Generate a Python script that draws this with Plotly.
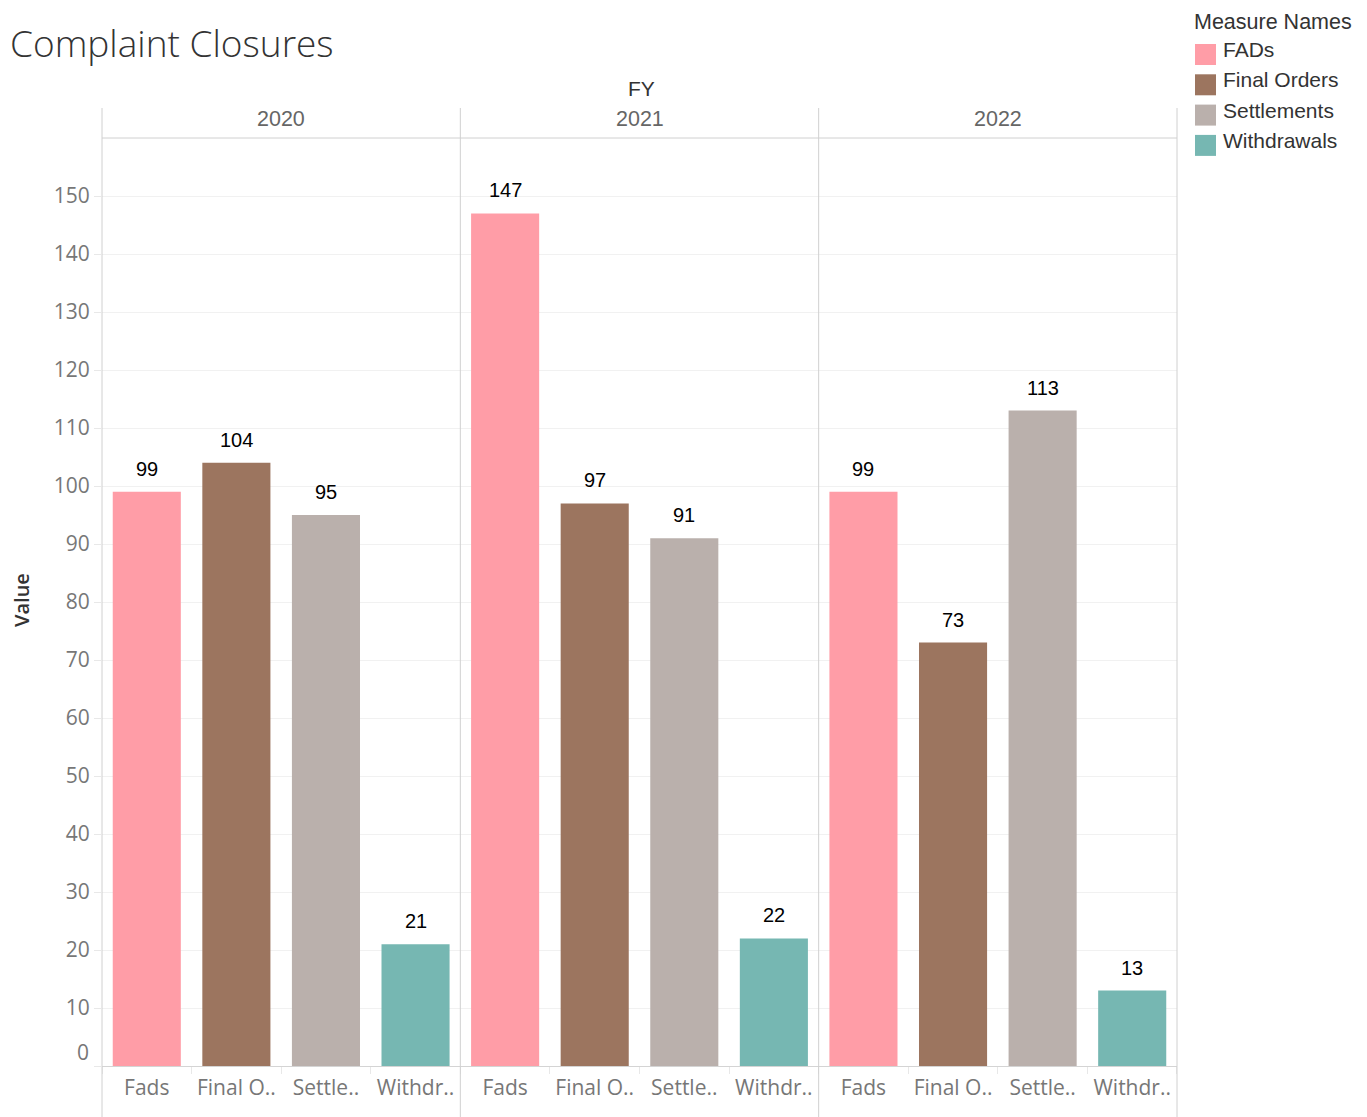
import plotly.graph_objects as go

# ---- data ----
years = ["2020", "2021", "2022"]
measures = ["FADs", "Final Orders", "Settlements", "Withdrawals"]
axis_labels = ["Fads", "Final O..", "Settle..", "Withdr.."]
colors = ["#FF9DA7", "#9C755F", "#BAB0AC", "#76B7B2"]
values_2020 = [99, 104, 95, 21]
values_2021 = [147, 97, 91, 22]
values_2022 = [99, 73, 113, 13]
y_ticks = [0, 10, 20, 30, 40, 50, 60, 70, 80, 90, 100, 110, 120, 130, 140, 150]
all_values = [values_2020, values_2021, values_2022]

OFF = 8  # page body margin
W, H = 1367 - OFF, 1117 - OFF
def px_x(x):
    return (x - OFF) / W
def px_y(y):
    return 1 - (y - OFF) / H

left, right = 102, 1177
top_header, top_plot, base = 108, 138, 1066
pw = (right - left) / 3

fig = go.Figure()
layout = dict(
    width=W, height=H, margin=dict(l=0, r=0, t=0, b=0),
    paper_bgcolor="white", plot_bgcolor="white",
    showlegend=False, bargap=0.24,
    font=dict(family="Open Sans", color="#555"),
)

ytick_font = dict(family="Open Sans", size=21, color="#777777")
xtick_font = dict(family="Open Sans", size=21, color="#777777")
label_font = dict(family="Liberation Sans", size=20, color="#000000")
ann = []
for i, (yr, vals) in enumerate(zip(years, all_values)):
    sfx = "" if i == 0 else str(i + 1)
    fig.add_trace(go.Bar(
        x=measures, y=vals, marker=dict(color=colors, line=dict(width=0)),
        xaxis="x" + sfx, yaxis="y" + sfx,
        hovertemplate="%{x}: %{y}<extra>" + yr + "</extra>",
    ))
    for m, v in zip(measures, vals):
        ann.append(dict(text=str(v), xref="x" + sfx, yref="y" + sfx, x=m, y=v,
                        yshift=23, xanchor="center", yanchor="middle",
                        showarrow=False, font=label_font))
    layout["xaxis" + sfx] = dict(
        domain=[px_x(left + pw * i), px_x(left + pw * (i + 1))],
        anchor="y" + sfx, type="category", categoryorder="array",
        categoryarray=measures, tickvals=measures, ticktext=axis_labels,
        range=[-0.5, 3.5], showgrid=False, zeroline=False,
        showline=True, linecolor="#d4d4d4", linewidth=1,
        ticks="outside", tickson="boundaries", ticklen=7, tickcolor="#e8e8e8",
        ticklabelstandoff=3, tickangle=0,
        tickfont=xtick_font, fixedrange=True,
    )
    layout["yaxis" + sfx] = dict(
        domain=[px_y(base), px_y(top_plot)], anchor="x" + sfx,
        range=[0, 160], tickvals=y_ticks,
        ticktext=[""] + [str(t) for t in y_ticks[1:]],
        showticklabels=(i == 0), showgrid=True, gridcolor="#f1f1f1",
        gridwidth=1, zeroline=False, showline=False,
        ticks="outside" if i == 0 else "", ticklen=7, tickcolor="#e8e8e8",
        tickfont=ytick_font, fixedrange=True,
    )
fig.update_layout(**layout)

shapes = []
line_col = "#d0d0d0"
for k in range(4):
    x = px_x(left + pw * k)
    shapes.append(dict(type="line", xref="paper", yref="paper", x0=x, x1=x,
                       y0=px_y(top_header), y1=0, line=dict(color=line_col, width=1)))
shapes.append(dict(type="line", xref="paper", yref="paper", x0=px_x(left), x1=px_x(right),
                   y0=px_y(top_plot), y1=px_y(top_plot), line=dict(color=line_col, width=1)))
# legend swatches
for j, c in enumerate(colors):
    y0 = 44 + 30.3 * j
    shapes.append(dict(type="rect", xref="paper", yref="paper",
                       x0=px_x(1195), x1=px_x(1216), y0=px_y(y0), y1=px_y(y0 + 21),
                       fillcolor=c, line=dict(width=0)))
fig.update_layout(shapes=shapes)

ann.append(dict(text="Complaint Closures", xref="paper", yref="paper", x=px_x(8), y=px_y(43),
                xanchor="left", yanchor="middle", showarrow=False,
                font=dict(family="Open Sans", size=37, color="#333333", weight=300)))
ann.append(dict(text="FY", xref="paper", yref="paper", x=px_x(641), y=px_y(89),
                xanchor="center", yanchor="middle", showarrow=False,
                font=dict(family="Liberation Sans", size=21, color="#333333")))
for i, yr in enumerate(years):
    ann.append(dict(text=yr, xref="paper", yref="paper", x=px_x(left + pw * (i + 0.5)),
                    y=px_y(119), xanchor="center", yanchor="middle", showarrow=False,
                    font=dict(family="Liberation Sans", size=21.5, color="#666666")))
ann.append(dict(text="Value", xref="paper", yref="paper", x=px_x(21), y=px_y(600),
                xanchor="center", yanchor="middle", showarrow=False, textangle=-90,
                font=dict(family="Open Sans", size=20, color="#333333", weight=600)))
ann.append(dict(text=str(y_ticks[0]), xref="x", yref="y", x=-0.5, y=0, xshift=-11, yshift=14,
                xanchor="right", yanchor="middle", showarrow=False, font=ytick_font))
ann.append(dict(text="Measure Names", xref="paper", yref="paper", x=px_x(1192), y=px_y(22),
                xanchor="left", yanchor="middle", showarrow=False,
                font=dict(family="Liberation Sans", size=21.5, color="#333333")))
for j, m in enumerate(measures):
    ann.append(dict(text=m, xref="paper", yref="paper", x=px_x(1221), y=px_y(49.5 + 30.3 * j),
                    xanchor="left", yanchor="middle", showarrow=False,
                    font=dict(family="Liberation Sans", size=21, color="#333333")))
fig.update_layout(annotations=ann)

fig.write_html("out.html")
